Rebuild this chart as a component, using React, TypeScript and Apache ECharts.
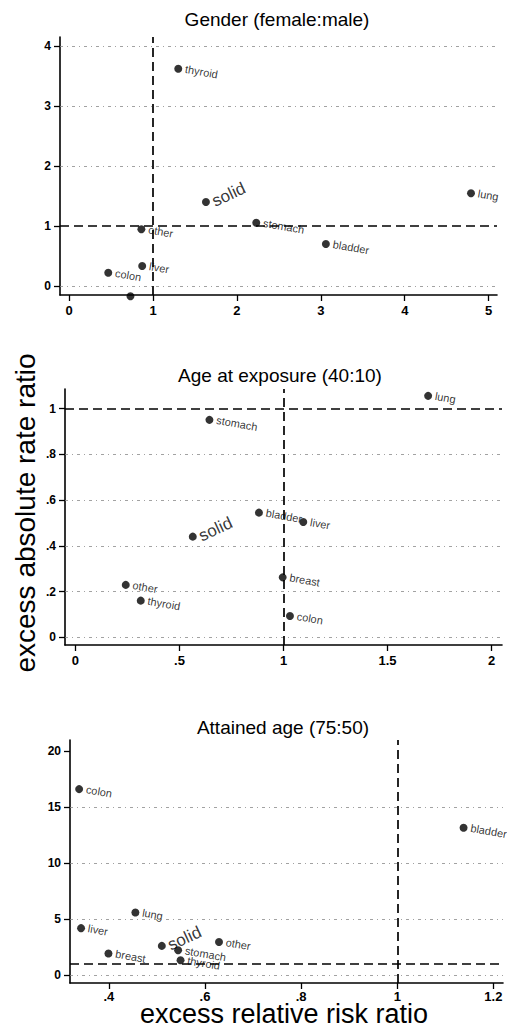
import React, { useEffect, useRef } from "react";
import * as echarts from "echarts";

// ---- Data ----
const sites1 = ["thyroid", "solid", "lung", "stomach", "bladder", "other", "liver", "colon", "breast"];
const err1 = [1.30, 1.63, 4.79, 2.23, 3.06, 0.86, 0.87, 0.465, 0.73];
const ear1 = [3.62, 1.40, 1.545, 1.055, 0.70, 0.945, 0.333, 0.22, -0.17];

const sites2 = ["lung", "stomach", "bladder", "liver", "solid", "breast", "colon", "other", "thyroid"];
const err2 = [1.695, 0.644, 0.882, 1.095, 0.564, 0.996, 1.031, 0.242, 0.314];
const ear2 = [1.056, 0.951, 0.545, 0.504, 0.44, 0.262, 0.093, 0.229, 0.16];

const sites3 = ["colon", "bladder", "lung", "liver", "other", "solid", "stomach", "breast", "thyroid"];
const err3 = [0.338, 1.138, 0.455, 0.342, 0.629, 0.51, 0.544, 0.399, 0.549];
const ear3 = [16.6, 13.15, 5.6, 4.2, 2.97, 2.62, 2.23, 1.94, 1.34];

const titles = ["Gender (female:male)", "Age at exposure (40:10)", "Attained age (75:50)"];
const xTicks1 = [0, 1, 2, 3, 4, 5];
const yTicks1 = [0, 1, 2, 3, 4];
const xTicks2 = [0, 0.5, 1, 1.5, 2];
const yTicks2 = [0, 0.2, 0.4, 0.6, 0.8, 1];
const xTicks3 = [0.4, 0.6, 0.8, 1, 1.2];
const yTicks3 = [0, 5, 10, 15, 20];
const yGrid1 = [0, 2, 3, 4];
const yGrid2 = [0, 0.2, 0.4, 0.6, 0.8];
const yGrid3 = [0, 5, 10, 15];
const hiddenLabels1 = ["breast"];

const FONT = '"Liberation Sans", Arial, sans-serif';

function fmt(v: number) {
  const s = String(Math.round(v * 100) / 100);
  return s.replace(/^0\./, ".");
}

function App() {
  const ref = useRef<HTMLDivElement>(null);
  useEffect(() => {
    if (!ref.current) return;
    const chart = echarts.init(ref.current, null, { renderer: "svg" });

    const grids = [
      { left: 60, top: 37, width: 437, height: 258 },
      { left: 65, top: 389, width: 437, height: 256 },
      { left: 70, top: 740, width: 433, height: 243 },
    ];
    const xr = [[-0.11, 5.1], [-0.05, 2.05], [0.319, 1.22]];
    const yr = [[-0.15, 4.15], [-0.034, 1.086], [-0.69, 20.98]];
    const xt = [xTicks1, xTicks2, xTicks3];
    const yt = [yTicks1, yTicks2, yTicks3];
    const yg = [yGrid1, yGrid2, yGrid3];
    const xMargins = [9, 9, 7];
    const sets = [
      { s: sites1, x: err1, y: ear1 },
      { s: sites2, x: err2, y: ear2 },
      { s: sites3, x: err3, y: ear3 },
    ];

    const axisCommon = (ticks: number[], fs: number, margin: number) => ({
      type: "value",
      axisLine: { show: true, onZero: false, lineStyle: { color: "#000", width: 1.6 } },
      axisTick: { show: true, length: 6, customValues: ticks, lineStyle: { color: "#000", width: 1.3 } },
      axisLabel: {
        customValues: ticks,
        formatter: (v: number) => fmt(v),
        color: "#000",
        fontFamily: FONT,
        fontWeight: "bold",
        fontSize: fs,
        margin,
      },
      splitLine: { show: false },
    });

    const xAxis = grids.map((_, i) => ({
      ...axisCommon(xt[i], 13, xMargins[i]),
      gridIndex: i,
      min: xr[i][0],
      max: xr[i][1],
    }));
    const yAxis = grids.map((_, i) => ({
      ...axisCommon(yt[i], 12, 9),
      gridIndex: i,
      min: yr[i][0],
      max: yr[i][1],
    }));

    const series = sets.map((d, i) => ({
      type: "scatter",
      xAxisIndex: i,
      yAxisIndex: i,
      symbolSize: 8,
      clip: false,
      itemStyle: { color: "#000" },
      label: {
        show: true,
        position: "right",
        distance: 3,
        rotate: -10,
        fontSize: 11,
        fontFamily: FONT,
        color: "#000",
        formatter: (p: any) => p.name,
      },
      data: d.s.map((name, k) => {
        const item: any = { name, value: [d.x[k], d.y[k]] };
        if (name === "solid") {
          item.label = { fontSize: 17, rotate: 25, distance: 3 };
        }
        if (i === 0 && hiddenLabels1.includes(name)) {
          item.label = { show: false };
        }
        return item;
      }),
      markLine: {
        silent: true,
        symbol: ["none", "none"],
        label: { show: false },
        data: [
          ...yg[i].map((v) => ({
            yAxis: v,
            lineStyle: { color: "#8a8a8a", width: 0.8, type: [3, 4, 1, 4] },
          })),
          { xAxis: 1, lineStyle: { color: "#000", width: 1.7, type: [9, 5] } },
          { yAxis: 1, lineStyle: { color: "#000", width: 1.7, type: [9, 5] } },
        ],
      },
    }));

    const titlePos = [
      [277, 19],
      [280, 375],
      [283, 727],
    ];

    const graphic: any[] = titles.map((t, i) => ({
      type: "text",
      x: titlePos[i][0],
      y: titlePos[i][1],
      style: {
        text: t,
        fontSize: 19,
        fontFamily: FONT,
        fill: "#000",
        align: "center",
        verticalAlign: "middle",
      },
    }));
    graphic.push({
      type: "text",
      x: 25,
      y: 513,
      rotation: Math.PI / 2,
      style: {
        text: "excess absolute rate ratio",
        fontSize: 28,
        fontFamily: FONT,
        fill: "#000",
        align: "center",
        verticalAlign: "middle",
      },
    });
    graphic.push({
      type: "text",
      x: 284,
      y: 1014,
      style: {
        text: "excess relative risk ratio",
        fontSize: 27,
        fontFamily: FONT,
        fill: "#000",
        align: "center",
        verticalAlign: "middle",
      },
    });

    chart.setOption({
      animation: false,
      backgroundColor: "#fff",
      grid: grids,
      xAxis,
      yAxis,
      series,
      graphic,
    } as any);

    return () => chart.dispose();
  }, []);

  return (
    <div
      ref={ref}
      style={{ position: "absolute", left: 0, top: 0, width: 507, height: 1029, background: "#fff" }}
    />
  );
}

export default App;
